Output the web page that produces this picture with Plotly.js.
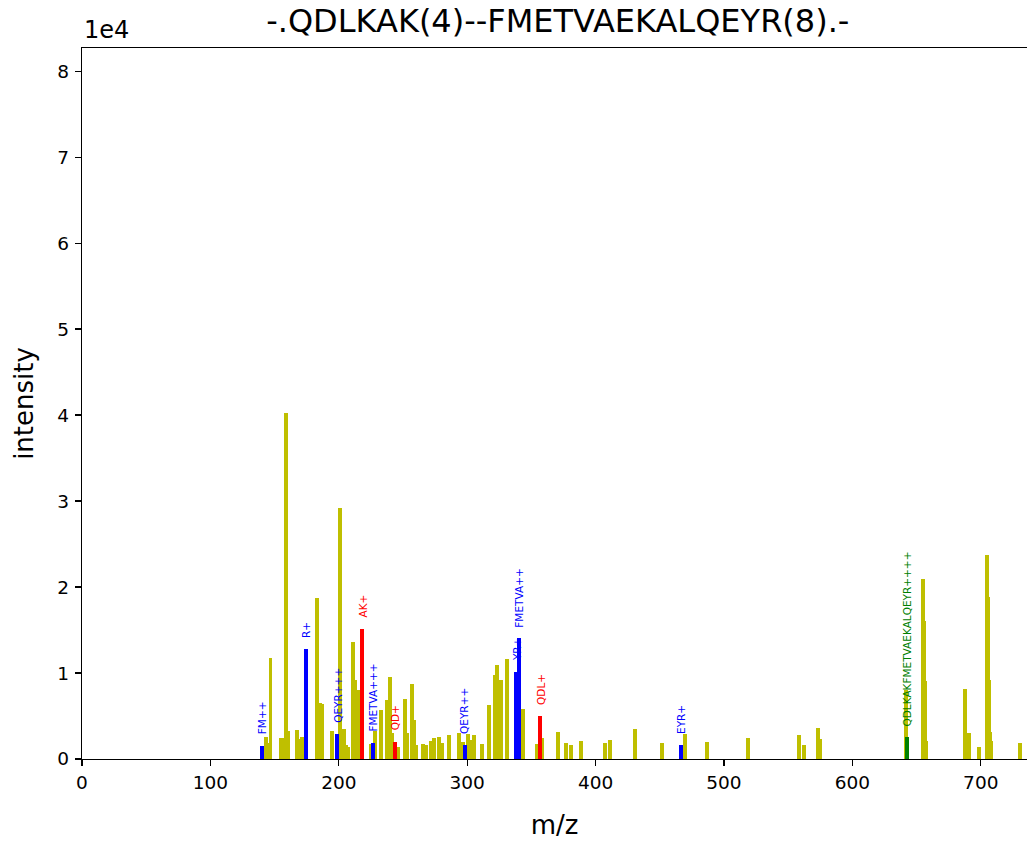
<!DOCTYPE html>
<html>
<head>
<meta charset="utf-8">
<script src="https://cdn.plot.ly/plotly-3.0.1.min.js"></script>
<style>html,body{margin:0;padding:0;background:#fff;overflow:hidden;}</style>
</head>
<body>
<div id="chart" style="width:1027px;height:843px;"></div>
<script>
// Unannotated spectrum peaks (m/z, intensity)
const peakMz = [143.4,145.0,146.8,155.3,157.8,159.2,160.7,167.1,169.3,171.7,182.9,185.0,187.0,194.5,200.7,203.8,206.0,207.5,211.0,212.8,215.0,224.7,228.5,233.0,237.8,240.0,241.6,245.8,251.2,253.0,257.0,258.7,260.0,265.6,268.0,271.7,274.3,278.3,280.5,285.5,293.5,296.5,300.5,303.0,305.5,311.8,317.3,321.5,323.5,326.0,331.3,343.7,354.5,358.5,371.0,377.0,380.5,389.0,407.0,411.0,430.5,452.0,470.0,487.1,519.0,558.3,562.2,573.6,574.6,641.6,655.1,655.8,656.4,657.2,687.6,689.2,690.7,698.5,705.0,705.7,706.3,707.0,708.3,730.7];
const peakInt = [2600,1900,11700,2400,2500,40200,3260,3370,2330,2560,18760,6470,6360,3260,29200,3530,1630,1360,13640,9190,8020,1800,3300,5700,6860,9570,3000,1430,6980,3020,8680,4530,1630,1700,1590,2090,2400,2600,1900,2790,3060,2000,2870,2170,2790,1700,6240,9770,10890,9190,11670,5780,1700,2400,3180,1860,1590,2060,1900,2210,3450,1820,2950,1980,2500,2750,1630,3570,2330,8000,20990,16080,9100,2100,8100,1900,3000,1450,23750,18860,9190,3100,2150,1820];

// Annotated fragment ions
const blueMz = [140.2,174.5,198.8,226.6,298.0,338.3,340.2,466.9];
const blueInt = [1550,12800,2900,1900,1590,10150,14030,1630];
const blueLabels = ["FM++","R+","QEYR+++","FMETVA+++","QEYR++","YR+","FMETVA++","EYR+"];

const redMz = [218.1,243.8,357.0];
const redInt = [15120,2000,5000];
const redLabels = ["AK+","QD+","QDL+"];

const greenMz = [642.3];
const greenInt = [2520];
const greenLabels = ["QDLKAKFMETVAEKALQEYR++++"];

const yTickVals = [0,10000,20000,30000,40000,50000,60000,70000,80000];
const yTickText = ["0","1","2","3","4","5","6","7","8"];
const xTickVals = [0,100,200,300,400,500,600,700];

const FONT = "DejaVu Sans, sans-serif";
const BARW = 3.1;

function barTrace(x, y, color) {
  return {type: "bar", x: x, y: y, width: x.map(() => BARW),
    marker: {color: color, line: {width: 0}}, hoverinfo: "x+y", showlegend: false};
}

const traces = [
  barTrace(peakMz, peakInt, "#bfbf00"),
  barTrace(blueMz, blueInt, "#0000ff"),
  barTrace(redMz, redInt, "#ff0000"),
  barTrace(greenMz, greenInt, "#008000")
];

const annotations = [];
function addLabels(xs, ys, labels, color) {
  xs.forEach((x, i) => {
    annotations.push({x: x, y: ys[i], xref: "x", yref: "y", text: labels[i],
      showarrow: false, textangle: -90, xanchor: "center", yanchor: "bottom",
      yshift: 9, font: {family: FONT, size: 10.5, color: color}});
  });
}
addLabels(blueMz, blueInt, blueLabels, "#0000ff");
addLabels(redMz, redInt, redLabels, "#ff0000");
addLabels(greenMz, greenInt, greenLabels, "#008000");

annotations.push({xref: "paper", yref: "paper", x: 0, y: 1, xanchor: "left", yanchor: "bottom",
  yshift: 2, text: "1e4", showarrow: false, font: {family: FONT, size: 24, color: "#000"}});

const layout = {
  width: 1027, height: 843,
  margin: {l: 82, r: 0, t: 48, b: 84, pad: 0},
  paper_bgcolor: "#fff", plot_bgcolor: "#fff",
  barmode: "overlay", bargap: 0,
  font: {family: FONT, color: "#000"},
  title: {text: "-.QDLKAK(4)--FMETVAEKALQEYR(8).-", font: {family: FONT, size: 32, color: "#000"},
    xref: "paper", x: 0.5035, xanchor: "center", yref: "container", y: 1 - 21/843, yanchor: "middle"},
  xaxis: {range: [0, 736], tickvals: xTickVals, ticks: "outside", ticklen: 6, tickwidth: 1.3,
    tickcolor: "#000", showline: true, linewidth: 1.3, linecolor: "#000", mirror: true,
    showgrid: false, zeroline: false, tickfont: {family: FONT, size: 18.5, color: "#000"},
    title: {text: "m/z", font: {family: FONT, size: 26, color: "#000"}, standoff: 24}},
  yaxis: {range: [0, 82700], tickvals: yTickVals, ticktext: yTickText, ticks: "outside", ticklen: 6,
    tickwidth: 1.3, tickcolor: "#000", showline: true, linewidth: 1.3, linecolor: "#000", mirror: false,
    showgrid: false, zeroline: false, tickfont: {family: FONT, size: 18.5, color: "#000"},
    ticklabelstandoff: 2,
    title: {text: "intensity", font: {family: FONT, size: 26, color: "#000"}, standoff: 16}},
  annotations: annotations
};

Plotly.newPlot("chart", traces, layout, {displayModeBar: false, staticPlot: true});
</script>
</body>
</html>
